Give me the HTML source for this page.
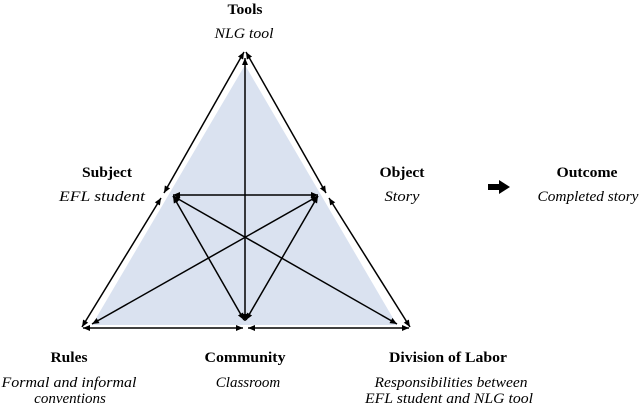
<!DOCTYPE html>
<html><head><style>html,body{margin:0;padding:0;background:#fff;}svg{display:block}</style></head>
<body>
<svg width="640" height="406" viewBox="0 0 640 406" xmlns="http://www.w3.org/2000/svg" font-family="'Liberation Serif',serif" font-size="15">
<defs>
<marker id="a" markerWidth="8" markerHeight="8" refX="7" refY="4" orient="auto-start-reverse" markerUnits="userSpaceOnUse">
<path d="M0,1 L7,4 L0,7 Z" fill="#000"/></marker>
</defs>
<polygon points="245,65 92,325 397,325" fill="#dae2f0"/>
<g stroke="#000" stroke-width="1.5" fill="none" marker-start="url(#a)" marker-end="url(#a)">
<line x1="244" y1="52" x2="164" y2="193"/>
<line x1="161" y1="198" x2="82" y2="327"/>
<line x1="246" y1="52" x2="326" y2="193"/>
<line x1="329" y1="198" x2="410" y2="327"/>
<line x1="83" y1="328" x2="243" y2="328"/>
<line x1="248" y1="328" x2="409" y2="328"/>
<line x1="245" y1="58" x2="245" y2="321"/>
<line x1="173" y1="195" x2="318" y2="195"/>
<line x1="173" y1="196" x2="244" y2="320"/>
<line x1="318" y1="196" x2="246" y2="320"/>
<line x1="173" y1="196" x2="397" y2="324"/>
<line x1="318" y1="196" x2="92" y2="324"/>
</g>
<path d="M488,184 H499 V180 L510,187 L499,194 V190 H488 Z" fill="#000"/>
<g text-anchor="middle">
<text x="245" y="14" font-weight="bold" textLength="35" lengthAdjust="spacingAndGlyphs">Tools</text>
<text x="244" y="38" font-style="italic" textLength="59" lengthAdjust="spacingAndGlyphs">NLG tool</text>
<text x="107" y="177" font-weight="bold" textLength="50" lengthAdjust="spacingAndGlyphs">Subject</text>
<text x="102" y="201" font-style="italic" textLength="86" lengthAdjust="spacingAndGlyphs">EFL student</text>
<text x="402" y="177" font-weight="bold" textLength="45" lengthAdjust="spacingAndGlyphs">Object</text>
<text x="402" y="201" font-style="italic" textLength="35" lengthAdjust="spacingAndGlyphs">Story</text>
<text x="587" y="177" font-weight="bold" textLength="61" lengthAdjust="spacingAndGlyphs">Outcome</text>
<text x="588" y="201" font-style="italic" textLength="101" lengthAdjust="spacingAndGlyphs">Completed story</text>
<text x="69" y="362" font-weight="bold" textLength="37" lengthAdjust="spacingAndGlyphs">Rules</text>
<text x="69" y="387" font-style="italic" textLength="135" lengthAdjust="spacingAndGlyphs">Formal and informal</text>
<text x="70" y="403" font-style="italic">conventions</text>
<text x="245" y="362" font-weight="bold" textLength="81" lengthAdjust="spacingAndGlyphs">Community</text>
<text x="248" y="387" font-style="italic">Classroom</text>
<text x="448" y="362" font-weight="bold" textLength="118" lengthAdjust="spacingAndGlyphs">Division of Labor</text>
<text x="451" y="387" font-style="italic" textLength="153" lengthAdjust="spacingAndGlyphs">Responsibilities between</text>
<text x="449" y="403" font-style="italic" textLength="168" lengthAdjust="spacingAndGlyphs">EFL student and NLG tool</text>
</g>
</svg>
</body></html>
